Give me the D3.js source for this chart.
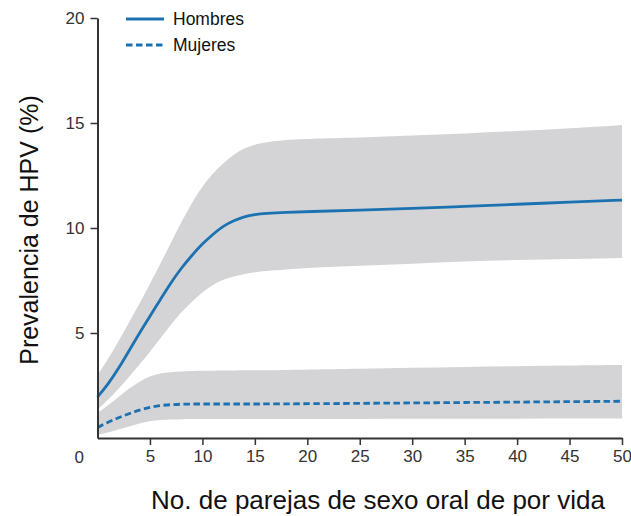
<!DOCTYPE html>
<html>
<head>
<meta charset="utf-8">
<script src="https://cdn.jsdelivr.net/npm/d3@7"></script>
<style>
  html, body { margin: 0; padding: 0; background: #fff; }
  svg { display: block; font-family: "Liberation Sans", Arial, Helvetica, sans-serif; }
</style>
</head>
<body>
<svg id="chart" width="631" height="516"></svg>
<script>
// Number of lifetime oral-sex partners (x positions of the fitted curves)
const partners = [0, 1, 2, 3, 4, 5, 6, 7, 8, 9, 10, 11, 12, 13, 14, 15, 16, 18, 20, 25, 30, 35, 40, 45, 50];

// Men: fitted prevalence (%) and confidence band
const menMean  = [1.95, 2.55, 3.3, 4.15, 5.0, 5.8, 6.6, 7.4, 8.1, 8.7, 9.25, 9.7, 10.1, 10.35, 10.55, 10.65, 10.7, 10.75, 10.78, 10.85, 10.93, 11.03, 11.13, 11.23, 11.33];
const menUpper = [3.0, 3.75, 4.6, 5.5, 6.4, 7.35, 8.3, 9.3, 10.3, 11.2, 12.0, 12.6, 13.1, 13.5, 13.8, 13.98, 14.08, 14.2, 14.25, 14.3, 14.4, 14.5, 14.62, 14.75, 14.9];
const menLower = [1.35, 1.8, 2.35, 2.9, 3.5, 4.1, 4.75, 5.4, 6.0, 6.5, 6.95, 7.3, 7.55, 7.7, 7.82, 7.9, 7.95, 8.02, 8.1, 8.2, 8.3, 8.42, 8.48, 8.52, 8.57];

// Women: fitted prevalence (%) and confidence band
const womenMean  = [0.5, 0.75, 0.97, 1.16, 1.33, 1.47, 1.55, 1.59, 1.61, 1.62, 1.62, 1.62, 1.62, 1.62, 1.62, 1.62, 1.62, 1.63, 1.63, 1.65, 1.67, 1.69, 1.71, 1.73, 1.75];
const womenUpper = [1.2, 1.55, 1.95, 2.35, 2.7, 2.95, 3.08, 3.14, 3.17, 3.19, 3.2, 3.21, 3.21, 3.22, 3.22, 3.23, 3.23, 3.24, 3.26, 3.3, 3.34, 3.38, 3.42, 3.45, 3.48];
const womenLower = [0.15, 0.25, 0.4, 0.55, 0.7, 0.8, 0.86, 0.88, 0.9, 0.9, 0.9, 0.9, 0.9, 0.9, 0.9, 0.9, 0.9, 0.9, 0.9, 0.91, 0.91, 0.92, 0.92, 0.93, 0.93];

// Axis ticks and labels
const xTicks = [5, 10, 15, 20, 25, 30, 35, 40, 45, 50];
const yTicks = [5, 10, 15, 20];
const seriesLabels = ["Hombres", "Mujeres"];
const xTitle = "No. de parejas de sexo oral de por vida";
const yTitle = "Prevalencia de HPV (%)";

const svg = d3.select("#chart");
const lineColor = "#1c72b0";
const bandColor = "#d4d4d6";
const axisColor = "#333333";

const x = d3.scaleLinear().domain([0, 50]).range([97.5, 622]);
const y = d3.scaleLinear().domain([0, 20]).range([438, 18]);

const men = partners.map((p, i) => ({ p, m: menMean[i], lo: menLower[i], hi: menUpper[i] }));
const women = partners.map((p, i) => ({ p, m: womenMean[i], lo: womenLower[i], hi: womenUpper[i] }));

const area = d3.area()
  .x(d => x(d.p))
  .y0(d => y(d.lo))
  .y1(d => y(d.hi))
  .curve(d3.curveBasis);

const line = d3.line()
  .x(d => x(d.p))
  .y(d => y(d.m))
  .curve(d3.curveBasis);

// Confidence bands
svg.append("path").datum(men).attr("d", area).attr("fill", bandColor);
svg.append("path").datum(women).attr("d", area).attr("fill", bandColor);

// Fitted curves
svg.append("path").datum(men).attr("d", line)
  .attr("fill", "none").attr("stroke", lineColor).attr("stroke-width", 2.8);
svg.append("path").datum(women).attr("d", line)
  .attr("fill", "none").attr("stroke", lineColor).attr("stroke-width", 2.8)
  .attr("stroke-dasharray", "6.5,3.5");

// Axes
const xAxis = d3.axisBottom(x).tickValues(xTicks).tickSize(7).tickSizeOuter(0).tickPadding(5);
const yAxis = d3.axisLeft(y).tickValues(yTicks).tickSize(7).tickSizeOuter(0).tickPadding(6);

const gx = svg.append("g").attr("transform", `translate(0,${y(0)})`).call(xAxis);
const gy = svg.append("g").attr("transform", `translate(${x(0)},0)`).call(yAxis);

[gx, gy].forEach(g => {
  g.select(".domain").attr("stroke", axisColor).attr("stroke-width", 2);
  g.selectAll(".tick line").attr("stroke", axisColor).attr("stroke-width", 1.5);
  g.selectAll(".tick text")
    .attr("fill", axisColor)
    .style("font-size", "17px")
    .style("font-family", "'Liberation Sans', Arial, sans-serif");
});

// Shared origin label
svg.append("text")
  .attr("x", x(0) - 13.5).attr("y", y(0) + 13)
  .attr("dy", "0.71em").attr("text-anchor", "end")
  .attr("fill", axisColor).style("font-size", "17px")
  .text("0");

// Axis titles
svg.append("text")
  .attr("x", 378).attr("y", 509)
  .attr("text-anchor", "middle").attr("fill", "#111")
  .style("font-size", "26px")
  .text(xTitle);

svg.append("text")
  .attr("transform", "translate(38,230) rotate(-90)")
  .attr("text-anchor", "middle").attr("fill", "#111")
  .style("font-size", "25px")
  .text(yTitle);

// Legend
const legend = svg.append("g");
seriesLabels.forEach((label, i) => {
  const ly = 19 + i * 26;
  legend.append("line")
    .attr("x1", 126).attr("x2", 164).attr("y1", ly).attr("y2", ly)
    .attr("stroke", lineColor).attr("stroke-width", 2.8)
    .attr("stroke-dasharray", i === 1 ? "6.5,3.5" : null);
  legend.append("text")
    .attr("x", 173).attr("y", ly).attr("dy", "0.35em")
    .attr("fill", "#111").style("font-size", "17.5px")
    .text(label);
});
</script>
</body>
</html>
